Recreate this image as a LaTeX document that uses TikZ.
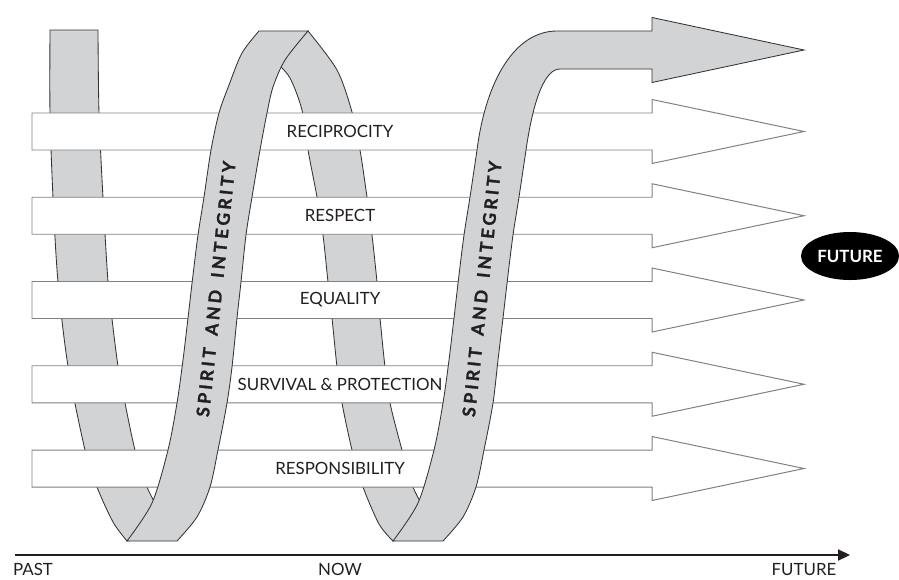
\documentclass[tikz,border=0pt]{standalone}
\usepackage{fontspec}
\setmainfont{Lato}
\newfontfamily\ribbonfont{Lato}[UprightFont={* Bold}, LetterSpace=19, WordSpace=1.6, FakeBold=1.2]
\usetikzlibrary{arrows.meta, shapes.geometric}
\definecolor{ribbongray}{HTML}{D1D3D4}
\definecolor{edgegray}{HTML}{808080}
\definecolor{inkdark}{HTML}{231F20}

\begin{document}
\begin{tikzpicture}[x=0.025cm, y=-0.025cm,
        ribbon/.style={fill=ribbongray, draw=black!80, line width=0.6pt},
        valuearrow/.style={fill=white, draw=edgegray, line width=0.7pt},
        valuetext/.style={text=inkdark, font=\fontsize{12}{14}\selectfont},
        ribbontext/.style={text=inkdark, font=\ribbonfont\fontsize{12.5}{14}\selectfont, rotate=84},
        timetext/.style={text=inkdark, font=\fontsize{12}{14}\selectfont, anchor=base}]
        \useasboundingbox (0,0) rectangle (899,579);

        % back of the ribbon
        \filldraw[ribbon] plot[smooth] coordinates {(50,30) (50,113) (53,198) (58,282) (68,366) (85,450) (97,487) (113,522) (127,541)}
            -- (165,535) -- plot[smooth] coordinates {(160,512) (147,487) (135,450) (125,403) (118,366) (112,319) (108,282) (103,198) (99,113) (98,30)} -- cycle;
        \filldraw[ribbon] (308,31) -- (270,50) -- plot[smooth] coordinates {(276,62) (290,78) (302,110) (308,150) (317,197) (323,235) (328,282) (332,318) (337,367) (342,403) (352,450) (363,487) (379,524) (393,541)}
            -- (431,535) -- plot[smooth] coordinates {(426,512) (413,487) (402,450) (390,403) (385,367) (380,318) (377,282) (372,235) (367,197) (360,150) (352,112) (337,70) (308,31)} -- cycle;

        % the five values
        \foreach \y/\val [count=\i] in {131.5/RECIPROCITY, 215.75/RESPECT, 300/EQUALITY, 384.25/SURVIVAL \& PROTECTION, 468.5/RESPONSIBILITY} {
            \filldraw[valuearrow] (32,\y-18.5) -- (652,\y-18.5) -- (652,\y-32) -- (804,\y) -- (652,\y+32) -- (652,\y+18.5) -- (32,\y+18.5) -- cycle;
            \node[valuetext] (val\i) at (340,\y) {\val};
        }

        % front of the ribbon
        \filldraw[ribbon] plot[smooth] coordinates {(127,541) (152,503) (168,450) (177,403) (183,360) (188,318) (193,275) (198,235) (204,197) (211,150) (219,113) (229,85) (242,53) (259,31)}
            -- plot[smooth] coordinates {(308,31) (285,60) (273,87) (267,113) (260,150) (252,197) (246,235) (241,282) (237,318) (232,367) (227,403) (218,450) (210,487) (197,517) (177,541)} -- cycle;
        \filldraw[ribbon] plot[smooth] coordinates {(393,541) (418,503) (434,450) (443,403) (449,360) (454,318) (459,275) (464,235) (470,197) (477,150)}
            .. controls (486,80) and (515,31) .. (557,31) -- (652,31) -- (652,17.5) -- (804,50) -- (652,82.5) -- (652,69) -- (560,69)
            .. controls (546,69) and (534,95) .. (526,150) -- plot[smooth] coordinates {(526,150) (519,197) (513,235) (508,275) (503,318) (498,360) (493,403) (484,450) (476,487) (463,517) (443,541)} -- cycle;

        \node[ribbontext] (spiritA) at (216,289) {SPIRIT AND INTEGRITY};
        \node[ribbontext] (spiritB) at (482,289) {SPIRIT AND INTEGRITY};

        % time line
        \coordinate (past) at (15,555);
        \coordinate (later) at (850,555);
        \draw[inkdark, line width=0.9pt, -{Triangle[length=3mm, width=2.8mm]}] (past) -- (later);
        \node[timetext] (pastLbl) at (33,575) {PAST};
        \node[timetext] (nowLbl) at (340,575) {NOW};
        \node[timetext] (futureLbl) at (804,575) {FUTURE};

        \node[ellipse, fill=black, text=white, minimum width=2.45cm, minimum height=1.2cm, inner sep=0pt,
            font=\bfseries\fontsize{12}{14}\selectfont] (futureOval) at (850,256) {FUTURE};
    \end{tikzpicture}
\end{document}
